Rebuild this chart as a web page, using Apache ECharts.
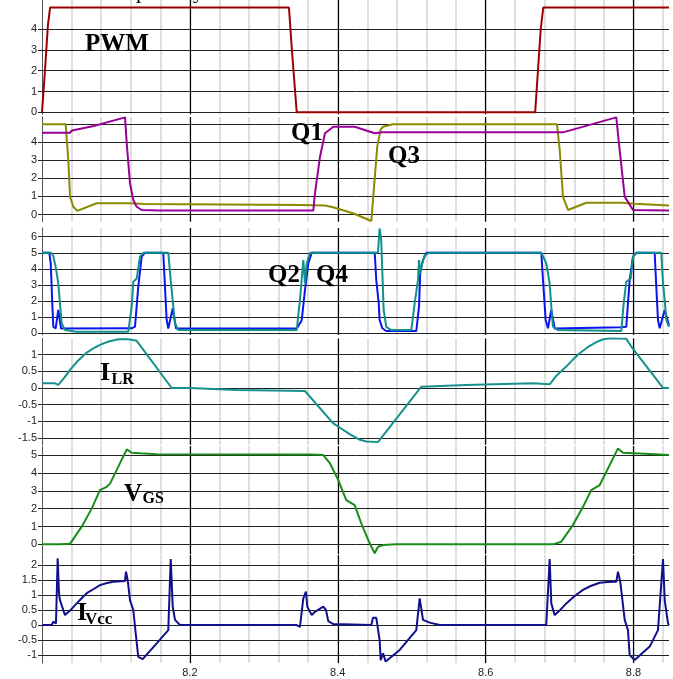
<!DOCTYPE html>
<html>
<head>
<meta charset="utf-8">
<script src="https://cdn.jsdelivr.net/npm/echarts@6/dist/echarts.min.js"></script>
<style>html,body{margin:0;padding:0;background:#fff}#c{width:673px;height:679px}</style>
</head>
<body>
<div id="c"></div>
<script>
// ---- data ----
const X_MIN = 8.0, X_MAX = 8.848;
const xMinorStep = 0.04, xMajorStep = 0.2;
const xTickLabels = [8.2, 8.4, 8.6, 8.8];

const yLabels1 = [0, 1, 2, 3, 4];
const yLines1 = [0, 1, 2, 3, 4];
const yLabels2 = [0, 1, 2, 3, 4];
const yLines2 = [0, 1, 2, 3, 4, 5];
const yLabels3 = [0, 1, 2, 3, 4, 5, 6];
const yLines3 = [0, 1, 2, 3, 4, 5, 6];
const yLabels4 = [-1.5, -1, -0.5, 0, 0.5, 1];
const yLines4 = [-1.5, -1, -0.5, 0, 0.5, 1];
const yLabels5 = [0, 1, 2, 3, 4, 5];
const yLines5 = [0, 1, 2, 3, 4, 5];
const yLabels6 = [-1, -0.5, 0, 0.5, 1, 1.5, 2];
const yLines6 = [-1, -0.5, 0, 0.5, 1, 1.5, 2];

const pwm = [[8.0,0],[8.004,2],[8.008,4.2],[8.011,5.05],[8.334,5.05],[8.338,3],[8.3445,0],[8.667,0],[8.6745,4],[8.678,5.05],[8.848,5.05]];

const q3 = [[8.0,5.0],[8.032,5.0],[8.0356,3.0],[8.0379,1.0],[8.0423,0.43],[8.0477,0.2],[8.074,0.62],[8.119,0.62],[8.121,0.58],[8.139,0.58],[8.141,0.53],[8.351,0.52],[8.353,0.5],[8.383,0.5],[8.3935,0.4],[8.4206,0.07],[8.4454,-0.36],[8.449,1.5],[8.4535,3.8],[8.458,4.7],[8.4612,4.86],[8.4747,5.0],[8.6965,5.0],[8.7002,3.57],[8.7046,0.99],[8.7114,0.25],[8.7361,0.65],[8.7835,0.65],[8.785,0.6],[8.8016,0.6],[8.803,0.55],[8.848,0.5]];

const q1 = [[8.0,4.53],[8.0379,4.53],[8.0406,4.65],[8.07,4.9],[8.1123,5.38],[8.1146,3.94],[8.119,1.73],[8.1235,0.8],[8.1281,0.43],[8.1348,0.25],[8.16,0.22],[8.3669,0.22],[8.3692,1.17],[8.376,3.2],[8.3827,4.5],[8.394,4.86],[8.4229,4.86],[8.45,4.5],[8.46,4.55],[8.7046,4.55],[8.7767,5.38],[8.7813,3.57],[8.7881,0.99],[8.7993,0.25],[8.848,0.22]];

const q2 = [[8.0,5.0],[8.0099,5.0],[8.0118,4.35],[8.0139,1.86],[8.0153,0.41],[8.0185,0.3],[8.022,1.45],[8.0257,0.3],[8.1213,0.31],[8.1258,0.41],[8.1302,2.9],[8.1348,4.76],[8.1393,5.0],[8.164,5.0],[8.1663,2.9],[8.1686,0.83],[8.1708,0.3],[8.1768,1.55],[8.1812,0.3],[8.3445,0.3],[8.3512,0.8],[8.3557,2.7],[8.3602,4.35],[8.3648,5.0],[8.45,5.0],[8.4521,3.3],[8.4554,1.86],[8.4566,0.83],[8.4602,0.31],[8.4656,0.14],[8.5062,0.14],[8.5099,1.65],[8.5116,3.9],[8.5153,4.55],[8.5197,5.0],[8.6753,5.0],[8.6776,3.3],[8.6812,0.83],[8.6843,0.31],[8.6888,1.45],[8.6934,0.3],[8.7835,0.37],[8.7902,0.41],[8.7948,3.3],[8.7993,4.76],[8.8038,5.0],[8.8286,5.0],[8.8308,2.9],[8.8331,0.83],[8.8354,0.31],[8.8422,1.45],[8.848,0.5]];

const q4 = [[8.0,5.0],[8.0122,5.0],[8.0153,4.8],[8.019,4.0],[8.022,3.1],[8.0243,1.86],[8.0266,0.62],[8.0311,0.2],[8.0469,0.1],[8.1167,0.1],[8.1213,1.65],[8.1235,3.2],[8.1281,3.4],[8.1325,4.76],[8.137,5.0],[8.1708,5.0],[8.1741,3.3],[8.1776,1.65],[8.1799,0.62],[8.1843,0.2],[8.3445,0.2],[8.3489,2.07],[8.3534,4.55],[8.3557,3.1],[8.358,4.35],[8.3625,5.0],[8.4544,5.0],[8.4566,6.5],[8.4588,5.8],[8.4602,3.9],[8.4621,1.45],[8.4656,0.4],[8.4724,0.2],[8.4995,0.2],[8.504,1.86],[8.5085,3.3],[8.5099,4.55],[8.5116,3.7],[8.5143,4.35],[8.5176,4.86],[8.5243,5.0],[8.6753,5.0],[8.682,4.35],[8.6866,3.1],[8.6888,1.65],[8.6911,0.41],[8.6979,0.2],[8.7835,0.14],[8.7867,1.86],[8.7902,3.2],[8.7962,3.4],[8.7993,4.76],[8.8038,5.0],[8.8376,5.0],[8.8399,3.1],[8.8422,2.07],[8.8443,0.83],[8.848,0.4]];

const ilr = [[8.0,0.14],[8.0176,0.14],[8.022,0.09],[8.03,0.3],[8.0379,0.54],[8.048,0.8],[8.0605,1.06],[8.07,1.19],[8.0784,1.29],[8.09,1.39],[8.1032,1.46],[8.1167,1.46],[8.1281,1.41],[8.1754,0.0],[8.2002,0.0],[8.2633,-0.06],[8.3354,-0.08],[8.3557,-0.09],[8.3935,-1.05],[8.405,-1.22],[8.4161,-1.38],[8.43,-1.55],[8.4386,-1.6],[8.4544,-1.62],[8.513,0.04],[8.5738,0.09],[8.664,0.14],[8.6866,0.11],[8.695,0.35],[8.7091,0.64],[8.718,0.85],[8.7272,1.04],[8.738,1.22],[8.7497,1.37],[8.758,1.45],[8.7678,1.49],[8.7902,1.47],[8.797,1.24],[8.8399,0.0],[8.848,0.0]];

const vgs = [[8.0,0],[8.0243,0],[8.026,0.05],[8.0379,0.03],[8.0537,0.99],[8.0672,2.0],[8.0784,3.04],[8.0875,3.22],[8.092,3.4],[8.1146,5.32],[8.1213,5.13],[8.1325,5.1],[8.1551,5.05],[8.3625,5.03],[8.3804,5.0],[8.3895,4.53],[8.4007,3.6],[8.4115,2.48],[8.4229,2.2],[8.4318,1.18],[8.4432,0.06],[8.45,-0.5],[8.4544,-0.13],[8.4612,-0.04],[8.4792,0.0],[8.6911,0.0],[8.7023,0.15],[8.7181,1.08],[8.7317,2.1],[8.7429,3.04],[8.7543,3.32],[8.779,5.37],[8.7858,5.13],[8.8219,5.06],[8.848,5.0]];

const ivcc = [[8.0,0],[8.0131,0],[8.0153,0.11],[8.0189,0.05],[8.0212,2.22],[8.023,1.06],[8.0243,0.83],[8.0311,0.33],[8.038,0.48],[8.0469,0.72],[8.054,0.9],[8.0605,1.06],[8.07,1.2],[8.0784,1.33],[8.088,1.4],[8.0964,1.44],[8.1123,1.47],[8.1136,1.78],[8.1159,1.5],[8.119,0.83],[8.1235,0.5],[8.1258,-0.06],[8.1302,-1.06],[8.1362,-1.14],[8.1551,-0.61],[8.1708,-0.17],[8.1741,2.2],[8.1768,0.61],[8.1799,0.17],[8.1866,0.0],[8.3445,0.0],[8.3489,-0.06],[8.3534,0.89],[8.357,1.11],[8.3588,0.61],[8.3648,0.33],[8.3692,0.44],[8.3804,0.61],[8.3841,0.5],[8.3872,0.13],[8.394,0.03],[8.4454,0.0],[8.4477,0.24],[8.4521,0.24],[8.4566,-0.5],[8.4581,-1.17],[8.4612,-0.94],[8.4648,-1.22],[8.4838,-0.83],[8.5062,-0.17],[8.5108,0.89],[8.5135,0.94],[8.5153,0.17],[8.5243,0.08],[8.5379,0.0],[8.682,0.0],[8.6866,2.2],[8.6888,0.72],[8.6934,0.33],[8.70,0.48],[8.7091,0.72],[8.72,0.96],[8.7317,1.17],[8.742,1.3],[8.7543,1.41],[8.765,1.43],[8.7767,1.44],[8.779,1.78],[8.7821,1.44],[8.7881,0.17],[8.7925,-0.17],[8.7948,-1.0],[8.8016,-1.17],[8.8219,-0.72],[8.8331,-0.17],[8.8399,2.2],[8.8422,0.83],[8.8466,0.06],[8.848,0.0]];

// ---- layout ----
const panels = [
  {top: 0,     height: 114.3, min: -0.1,  max: 5.41, labels: yLabels1, lines: yLines1, series: [{d: pwm, c: '#990000'}]},
  {top: 117,   height: 104.7, min: -0.4,  max: 5.4,  labels: yLabels2, lines: yLines2, series: [{d: q3, c: '#8a8a00'}, {d: q1, c: '#990099'}]},
  {top: 228,   height: 106.9, min: -0.1,  max: 6.54, labels: yLabels3, lines: yLines3, series: [{d: q2, c: '#0a14f0'}, {d: q4, c: '#12908c'}]},
  {top: 338.5, height: 106.3, min: -1.7,  max: 1.48, labels: yLabels4, lines: yLines4, series: [{d: ilr, c: '#16918c'}]},
  {top: 446.1, height: 108.1, min: -0.55, max: 5.5,  labels: yLabels5, lines: yLines5, series: [{d: vgs, c: '#1a8c1a'}]},
  {top: 555.1, height: 108,   min: -1.27, max: 2.33, labels: yLabels6, lines: yLines6, series: [{d: ivcc, c: '#10108c'}]}
];

const grid = [], xAxis = [], yAxis = [], series = [];
panels.forEach((p, i) => {
  grid.push({left: 42, right: 4, top: p.top, height: p.height});
  xAxis.push({
    type: 'value', gridIndex: i, position: 'bottom', min: X_MIN, max: X_MAX, interval: xMinorStep,
    axisLine: {show: false, onZero: false}, axisTick: {show: false}, axisLabel: {show: false},
    splitLine: {show: true, showMinLine: false, showMaxLine: false, lineStyle: {color: '#d4d4d4', width: 1.5}}
  });
  xAxis.push({
    type: 'value', gridIndex: i, position: 'bottom', min: X_MIN, max: X_MAX, interval: xMajorStep,
    axisLine: {show: false, onZero: false}, axisTick: {show: false},
    axisLabel: i === 5 ? {show: true, customValues: xTickLabels, fontSize: 11, color: '#222', margin: 4, fontFamily: 'Liberation Sans'} : {show: false},
    splitLine: {show: true, showMinLine: false, showMaxLine: false, lineStyle: {color: '#000', width: 1.2}}
  });
  yAxis.push({
    type: 'value', gridIndex: i, position: 'left', min: p.min, max: p.max,
    splitLine: {show: false},
    axisLine: {show: true, onZero: false, lineStyle: {color: '#555', width: 1}},
    axisTick: {show: true, customValues: p.labels, length: 4, lineStyle: {color: '#222'}},
    axisLabel: {customValues: p.labels, fontSize: 11, color: '#222', margin: 5, fontFamily: 'Liberation Sans'}
  });
  p.series.forEach((s, k) => {
    const obj = {
      type: 'line', xAxisIndex: 2 * i + 1, yAxisIndex: i, data: s.d,
      showSymbol: false, symbol: 'none', z: 3 + k,
      lineStyle: {color: s.c, width: 2}, itemStyle: {color: s.c}, silent: true
    };
    if (k === 0) {
      obj.markLine = {
        z: 1, silent: true, symbol: ['none', 'none'], animation: false,
        label: {show: false},
        lineStyle: {color: '#222', width: 1, type: 'solid'},
        emphasis: {disabled: true},
        data: p.lines.map(v => ({yAxis: v}))
      };
    }
    series.push(obj);
  });
});

const big = 'bold 25px "Liberation Serif", "Times New Roman", serif';
const big26 = 'bold 26px "Liberation Serif", "Times New Roman", serif';
const sub16 = 'bold 16px "Liberation Serif", "Times New Roman", serif';
const sub17 = 'bold 17px "Liberation Serif", "Times New Roman", serif';
function txt(t, x, y, font) {
  return {type: 'text', x: x, y: y, z: 100, silent: true,
    style: {text: t, font: font, fill: '#000', align: 'left', verticalAlign: 'top'}};
}
const graphic = [
  txt('p', 136, -18.5, '22px "Liberation Serif", serif'),
  txt('y', 193, -18.5, '22px "Liberation Serif", serif'),
  txt('PWM', 85, 31.6, big),
  txt('Q1', 291, 121.4, big),
  txt('Q3', 388, 144.1, big),
  txt('Q2', 268, 263.1, big),
  txt('Q4', 316, 263.1, big),
  txt('I', 100, 359.8, big26),
  txt('LR', 111.5, 371.4, sub16),
  txt('V', 124, 481.6, big),
  txt('GS', 142.5, 491.1, sub16),
  txt('I', 77, 600.1, big26),
  txt('Vcc', 85, 611.3, sub17)
];

const chart = echarts.init(document.getElementById('c'), null, {renderer: 'canvas'});
chart.setOption({
  animation: false,
  backgroundColor: '#fff',
  grid, xAxis, yAxis, series, graphic
});
</script>
</body>
</html>
